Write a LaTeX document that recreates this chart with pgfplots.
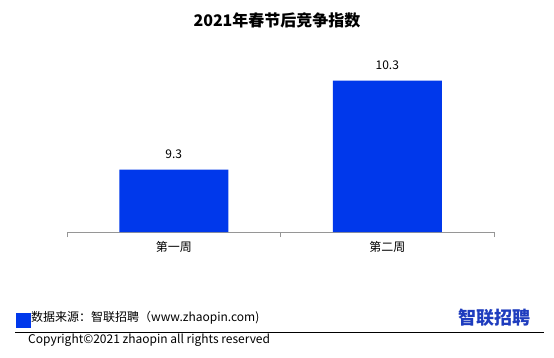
\documentclass[border=0pt]{standalone}
\usepackage{pgfplots}
\pgfplotsset{compat=1.18}
\usepackage{fontspec}
\setmainfont{Noto Sans CJK SC}
\definecolor{barblue}{RGB}{0,56,235}
\definecolor{logoblue}{RGB}{30,60,190}
\definecolor{axgray}{RGB}{150,150,150}
\begin{document}
\begin{tikzpicture}[x=1pt,y=1pt]
\path[fill=white] (0,0) rectangle (554,357);
\node[font=\fontsize{16}{18}\selectfont\bfseries] at (277,337) {2021年春节后竞争指数};
\begin{axis}[
  at={(67pt,125pt)}, anchor=south west,
  width=427pt, height=178pt, scale only axis,
  xmin=-0.5, xmax=1.5, ymin=8.6, ymax=10.6,
  axis x line*=bottom, hide y axis,
  axis line style={axgray, line width=0.8pt},
  x axis line style={-},
  xtick={0,1}, xticklabels={第一周,第二周},
  major tick length=0pt,
  extra x ticks={-0.5,0.5,1.5}, extra x tick labels={},
  extra x tick style={major tick length=5pt, tick align=outside, tick style={axgray, line width=0.8pt}},
  xticklabel style={font=\fontsize{12}{14}\selectfont, yshift=-6pt},
  ybar, bar width=109pt,
  nodes near coords,
  /pgf/number format/.cd, fixed, precision=1, fixed zerofill, assume math mode=true, /pgfplots/.cd,
  every node near coord/.append style={font=\fontsize{12}{14}\selectfont, anchor=base, inner sep=0pt, yshift=11pt, text=black},
]
\addplot[fill=barblue, draw=none] coordinates {(0,9.3) (1,10.3)};
\end{axis}
\fill[barblue] (16,29) rectangle (31,44);
\node[anchor=west, inner sep=0pt, font=\fontsize{12}{14}\selectfont] at (31,39) {数据来源：智联招聘（www.zhaopin.com)};
\draw[black, line width=0.8pt] (15,25) -- (544,25);
\node[anchor=west, inner sep=0pt, font=\fontsize{12}{14}\selectfont] at (28,17) {Copyright©2021 zhaopin all rights reserved};
\node[font=\fontsize{18}{20}\selectfont\bfseries, text=logoblue, inner sep=0pt] at (494,39) {智联招聘};
\end{tikzpicture}
\end{document}
